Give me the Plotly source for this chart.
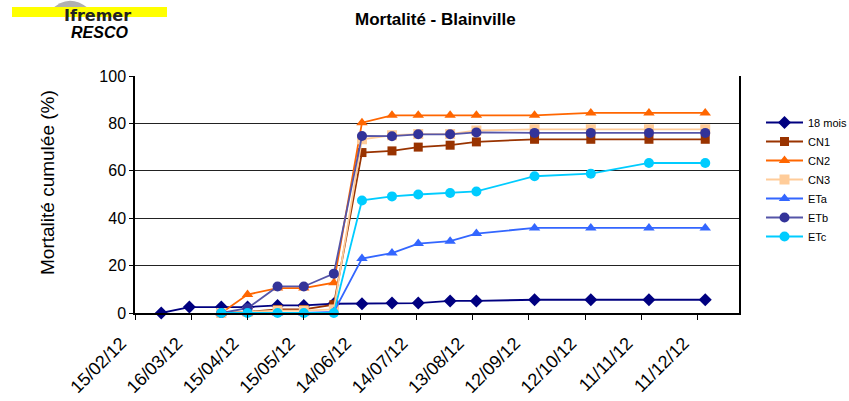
import plotly.graph_objects as go

dates_all = ["2012-02-29", "2012-03-15", "2012-04-01", "2012-04-15", "2012-05-01",
             "2012-05-15", "2012-05-31", "2012-06-15", "2012-07-01", "2012-07-15",
             "2012-08-01", "2012-08-15", "2012-09-15", "2012-10-15", "2012-11-15",
             "2012-12-15"]
dates_lots = dates_all[2:]

mois18 = [0, 2.5, 2.5, 2.5, 3.2, 3.2, 3.9, 3.9, 4.2, 4.2, 5.1, 5.1, 5.6, 5.6, 5.6, 5.6]
cn1 = [0, 0.5, 1.5, 1.5, 3.5, 67.7, 68.4, 70.0, 70.8, 72.2, 73.3, 73.3, 73.3, 73.3]
cn2 = [0, 7.8, 10.5, 10.5, 12.8, 80.3, 83.4, 83.4, 83.4, 83.4, 83.4, 84.4, 84.4, 84.4]
cn3 = [0, 0.5, 1.0, 1.0, 1.5, 73.3, 75.0, 75.5, 75.5, 77.0, 77.5, 77.5, 77.5, 77.5]
eta = [0, 0, 0, 0, 0.5, 23.0, 25.3, 29.3, 30.3, 33.5, 35.9, 35.9, 35.9, 35.9]
etb = [0, 2.0, 11.2, 11.2, 16.6, 74.7, 74.6, 75.4, 75.4, 76.2, 76.0, 76.0, 76.0, 76.0]
etc = [0, 0, 0, 0, 0, 47.5, 49.2, 50.0, 50.6, 51.3, 57.7, 58.8, 63.3, 63.3]

series = [
    ("18 mois", dates_all, mois18, "#000080", "#000080", "diamond", 10),
    ("CN1", dates_lots, cn1, "#993300", "#993300", "square", 9),
    ("CN2", dates_lots, cn2, "#FF6600", "#FF6600", "triangle-up", 10),
    ("CN3", dates_lots, cn3, "#FFCC99", "#FFCC99", "square", 10),
    ("ETa", dates_lots, eta, "#3366FF", "#3366FF", "triangle-up", 10),
    ("ETb", dates_lots, etb, "#5555A8", "#333399", "circle", 10),
    ("ETc", dates_lots, etc, "#00CCFF", "#00CCFF", "circle", 10),
]

fig = go.Figure()
for name, x, y, lc, mc, sym, sz in series:
    fig.add_trace(go.Scatter(
        x=x, y=y, name=name, mode="lines+markers",
        line=dict(color=lc, width=1.8),
        marker=dict(color=mc, symbol=sym, size=sz, line=dict(width=0)),
        cliponaxis=False,
    ))

font_family = "Arial, Liberation Sans, sans-serif"

W, H = 849, 401
plot_left, plot_right, plot_top, plot_bottom = 135, 739, 76, 313
l, t = plot_left, plot_top
r, b = W - plot_right, H - plot_bottom
pw, ph = W - l - r, H - t - b


def px(xp):
    return (xp - l) / pw


def py(yp):
    return (H - b - yp) / ph


fig.update_layout(
    width=W, height=H,
    paper_bgcolor="white", plot_bgcolor="white",
    margin=dict(l=l, r=r, t=t, b=b, autoexpand=False),
    font=dict(family=font_family, color="black"),
    showlegend=True,
    legend=dict(x=px(761), xanchor="left", y=py(108), yanchor="top",
                font=dict(size=11, family=font_family), itemwidth=37,
                bgcolor="rgba(0,0,0,0)", tracegroupgap=0),
    xaxis=dict(
        type="date",
        range=["2012-02-15", "2013-01-02"],
        tick0="2012-02-15", dtick=30 * 86400000,
        tickformat="%d/%m/%y", tickangle=-45,
        tickfont=dict(size=18),
        ticks="outside", ticklen=5, tickcolor="black",
        ticklabelstandoff=6, ticklabelshift=-14,
        showline=True, linecolor="black", linewidth=1.5,
        showgrid=False, zeroline=False,
    ),
    yaxis=dict(
        range=[0, 100], dtick=20,
        tickfont=dict(size=16),
        ticks="outside", ticklen=4, tickcolor="black",
        showline=True, linecolor="black", linewidth=1.5, mirror=True,
        showgrid=True, gridcolor="#222222", gridwidth=1,
        zeroline=False,
    ),
)

fig.add_annotation(text="Mortalité cumulée (%)", x=px(47), y=py(183), textangle=-90,
                   xref="paper", yref="paper", showarrow=False,
                   font=dict(size=19, family=font_family), xanchor="center", yanchor="middle")

fig.add_annotation(text="<b>Mortalité - Blainville</b>", x=px(435), y=py(19),
                   xref="paper", yref="paper", showarrow=False,
                   font=dict(size=17, family=font_family), xanchor="center", yanchor="middle")

# logo
fig.add_shape(type="path", xref="paper", yref="paper",
              path=f"M {px(50)} {py(11)} Q {px(68)} {py(-8)} {px(88)} {py(8)} L {px(88)} {py(11)} Z",
              fillcolor="#B0B0B0", line=dict(width=0), layer="above")
fig.add_shape(type="rect", xref="paper", yref="paper",
              x0=px(12), x1=px(167), y0=py(17), y1=py(7),
              fillcolor="#FFFF00", line=dict(width=0), layer="above")
fig.add_annotation(text="<b>Ifremer</b>", x=px(97), y=py(15), xref="paper", yref="paper",
                   showarrow=False, font=dict(size=16, family="DejaVu Sans", color="#222222"),
                   xanchor="center", yanchor="middle")
fig.add_annotation(text="<b><i>RESCO</i></b>", x=px(99), y=py(32.5), xref="paper", yref="paper",
                   showarrow=False, font=dict(size=16, family=font_family, color="black"),
                   xanchor="center", yanchor="middle")

fig.write_html("out.html", config={"displayModeBar": False},
               post_script="document.body.style.margin='0px';")
